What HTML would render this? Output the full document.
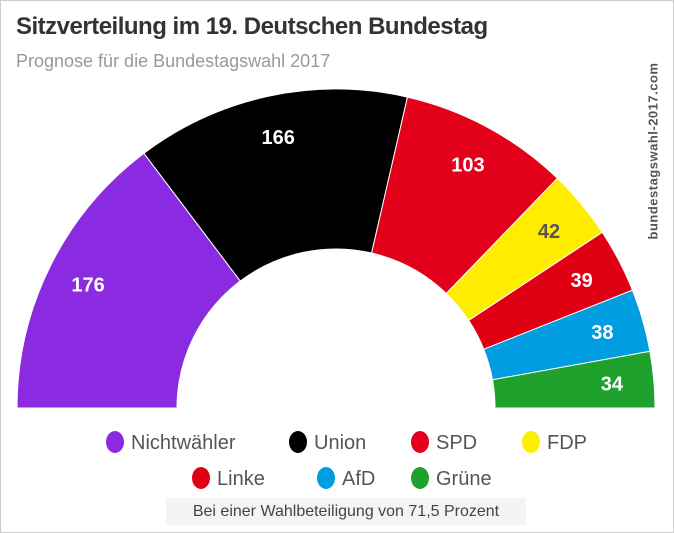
<!DOCTYPE html>
<html><head><meta charset="utf-8"><style>
html,body{margin:0;padding:0;background:#fff}
#wrap{position:relative;width:672px;height:531px;border:1px solid #ccc;overflow:hidden;font-family:"Liberation Sans",sans-serif}
.t{position:absolute;left:15px;top:12px;font-size:24px;font-weight:bold;color:#333;letter-spacing:-0.5px}
.s{position:absolute;left:15px;top:50px;font-size:18px;color:#999}
.w{position:absolute;left:652px;top:150px;transform:translate(-50%,-50%) rotate(-90deg);font-size:13px;font-weight:bold;color:#555;white-space:nowrap;letter-spacing:0.5px}
.note{position:absolute;left:165px;top:497px;width:360px;height:27px;background:#f4f4f4;font-size:16px;color:#444;text-align:center;line-height:27px}
</style></head><body>
<div id="wrap">
<div class="t">Sitzverteilung im 19. Deutschen Bundestag</div>
<div class="s">Prognose für die Bundestagswahl 2017</div>
<div class="w">bundestagswahl-2017.com</div>
<svg id="svg" width="672" height="531" style="position:absolute;left:0;top:0"></svg>
<div class="note">Bei einer Wahlbeteiligung von 71,5 Prozent</div>
</div>
<script>
const parties=["Nichtwähler","Union","SPD","FDP","Linke","AfD","Grüne"];
const seats=[176,166,103,42,39,38,34];
const colors=["#8a2be2","#000000","#e2001a","#ffed00","#df0014","#009ee0","#1fa12d"];
const labelColors=["#fff","#fff","#fff","#555","#fff","#fff","#fff"];
const legendRow1=[0,1,2,3];
const legendRow2=[4,5,6];
const NS="http://www.w3.org/2000/svg";
const svg=document.getElementById('svg');
const cx=335,cy=407,R=319,r=159,LR=277;
const total=seats.reduce((a,b)=>a+b,0);
function pt(rad,ang){return [cx-rad*Math.cos(ang),cy-rad*Math.sin(ang)];}
let acc=0;
seats.forEach((v,i)=>{
  const a0=acc/total*Math.PI,a1=(acc+v)/total*Math.PI;acc+=v;
  const p0=pt(R,a0),p1=pt(R,a1),q1=pt(r,a1),q0=pt(r,a0);
  const path=document.createElementNS(NS,'path');
  path.setAttribute('d',`M${p0}A${R},${R} 0 0 1 ${p1}L${q1}A${r},${r} 0 0 0 ${q0}Z`);
  path.setAttribute('fill',colors[i]);path.setAttribute('stroke','#fff');path.setAttribute('stroke-width','1');
  
  
  svg.appendChild(path);
  const m=pt(LR,(a0+a1)/2);
  const t=document.createElementNS(NS,'text');
  t.setAttribute('x',m[0]);t.setAttribute('y',m[1]+7);t.setAttribute('text-anchor','middle');
  t.setAttribute('font-size','20');t.setAttribute('font-weight','bold');t.setAttribute('fill',labelColors[i]);
  t.setAttribute('font-family','Liberation Sans, sans-serif');
  t.textContent=v;
  
  
  svg.appendChild(t);
});
function legend(row,y,xs){
  row.forEach((idx,k)=>{
    const g=document.createElementNS(NS,'g');
    
    
    const c=document.createElementNS(NS,'ellipse');
    c.setAttribute('cx',xs[k]);c.setAttribute('cy',y);c.setAttribute('rx',9);c.setAttribute('ry',11);c.setAttribute('fill',colors[idx]);
    g.appendChild(c);
    const t=document.createElementNS(NS,'text');
    t.setAttribute('x',xs[k]+16);t.setAttribute('y',y+7);t.setAttribute('font-size','20');t.setAttribute('fill','#555');
    t.setAttribute('font-family','Liberation Sans, sans-serif');
    t.textContent=parties[idx];
    g.appendChild(t);svg.appendChild(g);
  });
}
legend(legendRow1,441,[114,297,419,530]);
legend(legendRow2,477,[200,325,419]);
</script>
</body></html>
